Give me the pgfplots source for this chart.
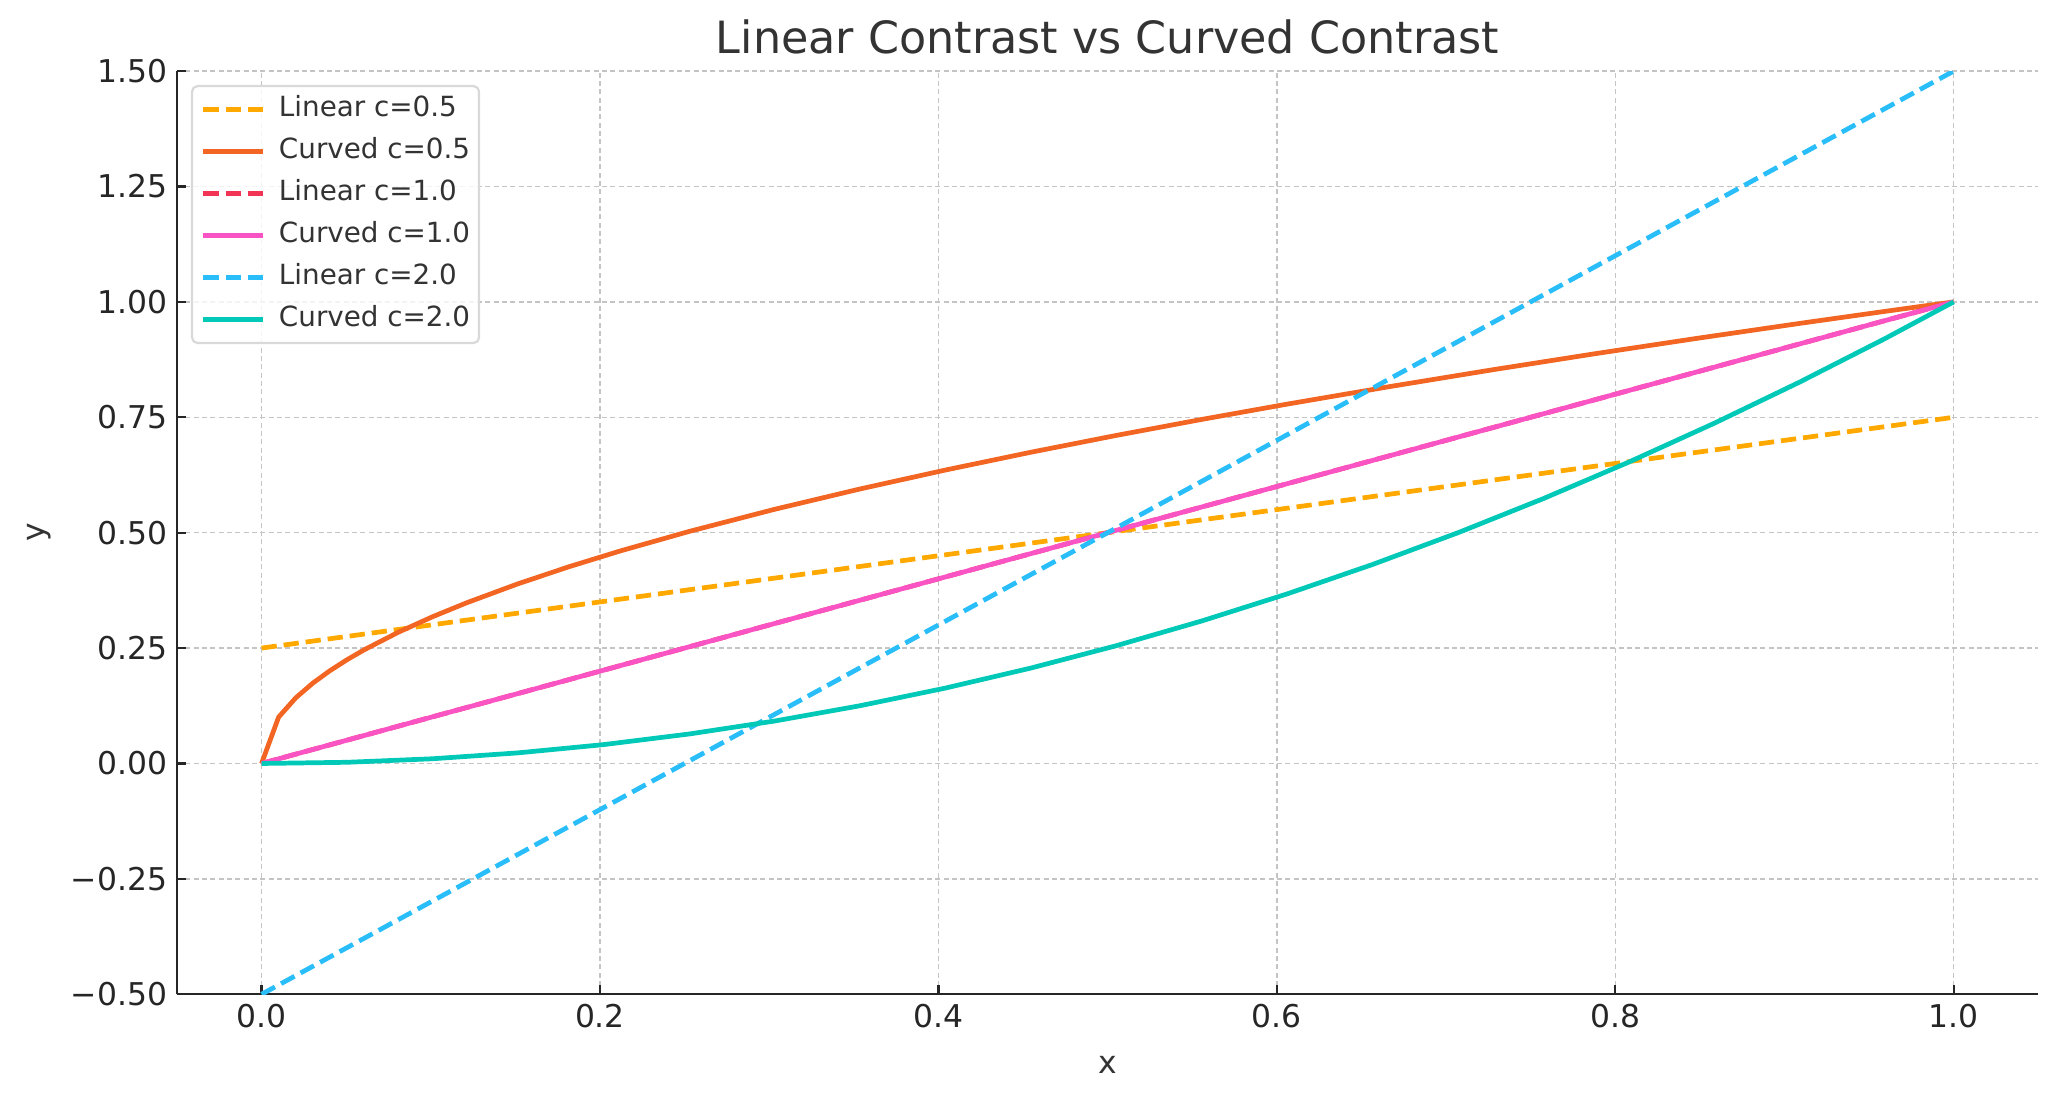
\documentclass[border=0pt]{standalone}
\usepackage{pgfplots}
\pgfplotsset{compat=1.18}
\usepackage{fontspec}
\setmainfont{DejaVu Sans}
\definecolor{linA}{RGB}{255,168,0}
\definecolor{curA}{RGB}{242,101,34}
\definecolor{linB}{RGB}{242,53,85}
\definecolor{curB}{RGB}{250,84,196}
\definecolor{linC}{RGB}{41,190,250}
\definecolor{curC}{RGB}{0,201,183}
\definecolor{axcol}{RGB}{38,38,38}
\definecolor{txtcol}{RGB}{51,51,51}
\begin{document}
\begin{tikzpicture}
\path[use as bounding box] (-63.7pt,-38.5pt) rectangle (676.4pt,357.9pt);
\begin{axis}[
  at={(0,0)}, anchor=south west,
  scale only axis, width=670pt, height=332.3pt,
  xmin=-0.05, xmax=1.05, ymin=-0.5, ymax=1.5,
  axis x line*=bottom, axis y line*=left,
  axis line style={line width=0.8pt, color=axcol},
  xtick={0,0.2,0.4,0.6,0.8,1},
  xticklabels={0.0,0.2,0.4,0.6,0.8,1.0},
  ytick={-0.5,-0.25,0,0.25,0.5,0.75,1,1.25,1.5},
  yticklabels={−0.50,−0.25,0.00,0.25,0.50,0.75,1.00,1.25,1.50},
  tick align=inside, major tick length=3.3pt,
  tick style={line width=0.8pt, color=axcol},
  ticklabel style={font=\fontsize{11.3}{13}\selectfont, text=axcol},
  grid=major,
  major grid style={line width=0.5pt, color=black!23, dash pattern=on 1.8pt off 1.2pt},
  every axis title shift=0pt,
  title={Linear Contrast vs Curved Contrast},
  title style={font=\fontsize{16}{19}\selectfont, text=txtcol, at={(0.5,1.0196)}, anchor=base},
  xlabel={x},
  xlabel style={font=\fontsize{11.3}{13}\selectfont, text=txtcol, at={(0.5,-0.0858)}, anchor=base},
  ylabel={y},
  ylabel style={font=\fontsize{11.3}{13}\selectfont, text=txtcol, at={(-0.071,0.5)}, anchor=base, rotate=0},
  legend image code/.code={\draw[#1] (0pt,0pt) -- (21.6pt,0pt);},
  legend cell align=left,
  legend style={at={(0.0075,0.985)}, anchor=north west,
    draw=black!15, line width=0.8pt, rounded corners=2pt,
    fill=white, fill opacity=0.8, text opacity=1,
    font=\fontsize{10}{12}\selectfont, text=txtcol,
    inner xsep=3.2pt, inner ysep=3.5pt, row sep=5.1pt,
    nodes={inner xsep=0pt, inner ysep=0pt, text height=7.6pt, text depth=2.4pt},
    /tikz/every odd column/.append style={column sep=4.8pt}},
  every axis plot/.append style={line width=1.7pt},
]
\addplot[linA, dash pattern=on 5.5pt off 2.5pt] coordinates {(0,0.25) (1,0.75)};
\addlegendentry{Linear c=0.5}
\addplot[curA] coordinates {
(0,0) (0.010101,0.100504) (0.020202,0.142134) (0.030303,0.174078)
(0.040404,0.201008) (0.050505,0.224733) (0.060606,0.246183)
(0.080808,0.284267) (0.10101,0.317821) (0.121212,0.348155)
(0.151515,0.389249) (0.181818,0.426401) (0.212121,0.460566)
(0.252525,0.502519) (0.30303,0.550482) (0.353535,0.594588)
(0.40404,0.635642) (0.454545,0.674200) (0.505051,0.710669)
(0.555556,0.745356) (0.606061,0.778499) (0.666667,0.816497)
(0.727273,0.852803) (0.787879,0.887625) (0.848485,0.921132)
(0.909091,0.953463) (0.959596,0.979590) (1,1)};
\addlegendentry{Curved c=0.5}
\addplot[linB, dash pattern=on 5.5pt off 2.5pt] coordinates {(0,0) (1,1)};
\addlegendentry{Linear c=1.0}
\addplot[curB] coordinates {(0,0) (1,1)};
\addlegendentry{Curved c=1.0}
\addplot[linC, dash pattern=on 5.5pt off 2.5pt] coordinates {(0,-0.5) (1,1.5)};
\addlegendentry{Linear c=2.0}
\addplot[curC] coordinates {
(0,0) (0.050505,0.002551) (0.10101,0.010203) (0.151515,0.022957)
(0.20202,0.040812) (0.252525,0.063769) (0.30303,0.091827)
(0.353535,0.124987) (0.40404,0.163248) (0.454545,0.206612)
(0.505051,0.255076) (0.555556,0.308642) (0.606061,0.367309)
(0.656566,0.431078) (0.707071,0.499949) (0.757576,0.573921)
(0.808081,0.652995) (0.858586,0.737169) (0.909091,0.826446)
(0.959596,0.920824) (1,1)};
\addlegendentry{Curved c=2.0}
\end{axis}
\end{tikzpicture}
\end{document}
